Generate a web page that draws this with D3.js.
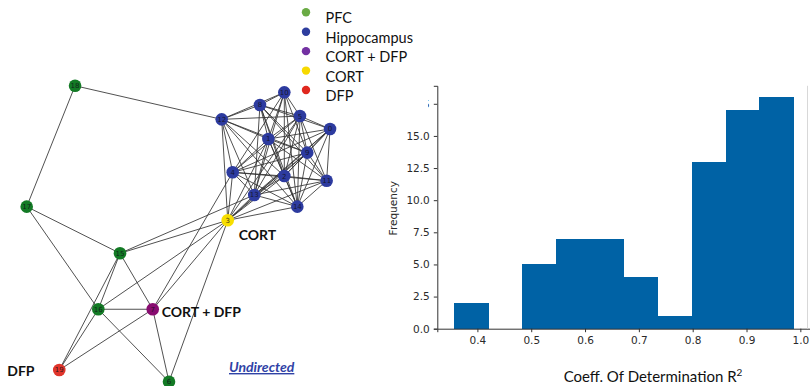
<!DOCTYPE html>
<html>
<head>
<meta charset="utf-8">
<script src="https://cdn.jsdelivr.net/npm/d3@7"></script>
<style>
  html, body { margin: 0; padding: 0; background: #fff; }
  svg { display: block; }
</style>
</head>
<body>
<svg id="chart" width="810" height="386"></svg>
<script>
// ---------- network: node layout (spring-layout coordinates) ----------
const nodeIds    = [0, 1, 2, 3, 4, 5, 6, 7, 8, 9, 10, 11, 12, 13, 14, 15, 16, 17, 18, 19];
const nodeGroups = ["hip","hip","hip","cort","hip","hip","pfc","cortdfp","hip","hip",
                    "hip","hip","hip","hip","hip","pfc","pfc","pfc","pfc","dfp"];
const layoutX = [0.968, 0.570, 0.673, 0.308, 0.340, 0.774, -0.071, -0.176, 0.516, 0.821,
                 0.673, 0.946, 0.269, 0.479, 0.757, -0.387, -0.527, -0.989, -0.677, -0.779];
const layoutY = [0.707, 0.640, 0.393, 0.098, 0.418, 0.793, -0.978, -0.495, 0.867, 0.549,
                 0.951, 0.362, 0.771, 0.267, 0.189, -0.122, -0.495, 0.189, 0.995, -0.900];

// undirected edges
const edges = [
  // prefrontal / treatment nodes
  [18,17],[18,12],[17,15],[17,16],[15,3],[15,13],[15,16],[15,19],[15,7],
  [16,7],[16,19],[16,6],[16,3],[7,3],[7,4],[7,19],[7,6],[6,3],
  // hippocampal cluster
  [12,8],[12,10],[12,1],[12,5],[12,9],[12,4],[12,13],[12,3],[12,14],[12,2],
  [8,10],[8,1],[8,5],[8,9],[8,2],[8,13],[8,14],[8,11],[8,0],
  [10,5],[10,1],[10,9],[10,2],[10,13],[10,14],[10,4],
  [5,0],[5,1],[5,9],[5,2],[5,4],[5,13],[5,3],[5,11],[5,14],
  [0,9],[0,11],[0,3],[0,13],[0,2],[0,1],[0,4],[0,14],
  [1,9],[1,4],[1,2],[1,13],[1,14],[1,11],[1,3],
  [9,2],[9,11],[9,4],[9,13],[9,14],[9,3],
  [4,13],[4,3],[4,2],[4,11],[4,14],
  [2,13],[2,14],[2,11],[2,3],
  [11,14],[11,13],[11,3],
  [13,14],[13,3],[14,3]
];

const legendLabels = ["PFC", "Hippocampus", "CORT + DFP", "CORT", "DFP"];
const legendColors = ["#6aab45", "#2e3d9e", "#7331a2", "#f7d900", "#e0281f"];
const nodeColors = { pfc: "#137a25", hip: "#2d3b9f", cortdfp: "#880c70", cort: "#f7de00", dfp: "#e0352b" };

// ---------- histogram: coefficient of determination ----------
const binEdges = [0.357, 0.420, 0.483, 0.546, 0.609, 0.672, 0.735, 0.798, 0.861, 0.924, 0.987];
const binCounts = [2, 0, 5, 7, 7, 4, 1, 13, 17, 18];
const xTicks = [0.4, 0.5, 0.6, 0.7, 0.8, 0.9, 1.0];
const yTicks = [0, 2.5, 5, 7.5, 10, 12.5, 15, 17.5];

const svg = d3.select("#chart");

// ===== network graph =====
const nx = d3.scaleLinear().domain([-1, 1]).range([25, 335]);
const ny = d3.scaleLinear().domain([-1, 1]).range([385, 85]);
const nodes = nodeIds.map((id, i) => ({ id, group: nodeGroups[i], x: nx(layoutX[i]), y: ny(layoutY[i]) }));

const net = svg.append("g").attr("class", "network");
net.append("g").selectAll("line").data(edges).join("line")
  .attr("x1", d => nodes[d[0]].x).attr("y1", d => nodes[d[0]].y)
  .attr("x2", d => nodes[d[1]].x).attr("y2", d => nodes[d[1]].y)
  .attr("stroke", "#333").attr("stroke-width", 1).attr("stroke-opacity", 0.85);

const nodeG = net.append("g").selectAll("g").data(nodes).join("g")
  .attr("transform", d => `translate(${d.x},${d.y})`);
nodeG.append("circle").attr("r", 6.3).attr("fill", d => nodeColors[d.group]);
nodeG.append("text").text(d => d.id)
  .attr("text-anchor", "middle").attr("dy", "0.35em")
  .attr("font-family", "DejaVu Sans, sans-serif").attr("font-size", 7)
  .attr("fill", "#101018").attr("fill-opacity", 0.85);

// group annotations
const annot = net.append("g").attr("font-family", "Lato, sans-serif").attr("font-weight", 700)
  .attr("font-size", 14).attr("fill", "#111");
annot.append("text").attr("x", nodes[3].x + 11).attr("y", nodes[3].y + 20).text("CORT");
annot.append("text").attr("x", nodes[7].x + 9).attr("y", nodes[7].y + 7.5).text("CORT + DFP");
annot.append("text").attr("x", nodes[19].x - 52).attr("y", nodes[19].y + 6).text("DFP");

net.append("text").attr("x", 229).attr("y", 372)
  .attr("font-family", "Lato, sans-serif").attr("font-weight", 700).attr("font-style", "italic")
  .attr("font-size", 14).attr("fill", "#2f42a6").attr("text-decoration", "underline")
  .text("Undirected");

// legend
const leg = svg.append("g").attr("class", "legend");
const legY = d3.scalePoint().domain(legendLabels).range([12.3, 90]);
leg.selectAll("circle").data(legendLabels).join("circle")
  .attr("cx", 306).attr("cy", d => legY(d)).attr("r", 4.2)
  .attr("fill", (d, i) => legendColors[i]);
leg.selectAll("text").data(legendLabels).join("text")
  .attr("x", 325.5).attr("y", d => legY(d) + 11)
  .attr("font-family", "Lato, sans-serif").attr("font-size", 14.5).attr("fill", "#111")
  .text(d => d);

// ===== histogram =====
const hx = d3.scaleLinear().domain([0.3255, 1.0185]).range([437.3, 810.3]);
const hy = d3.scaleLinear().domain([0, 18.9]).range([328.7, 85.8]);
const bins = binCounts.map((c, i) => ({ x0: binEdges[i], x1: binEdges[i + 1], count: c }));

const hist = svg.append("g").attr("class", "histogram");
hist.append("g").attr("shape-rendering", "crispEdges")
  .selectAll("rect").data(bins.filter(b => b.count > 0)).join("rect")
  .attr("x", d => hx(d.x0)).attr("width", d => hx(d.x1) - hx(d.x0) + 0.5)
  .attr("y", d => hy(d.count)).attr("height", d => hy(0) - hy(d.count))
  .attr("fill", "#0062a5");

const axisFont = g => g.selectAll("text").attr("font-family", "DejaVu Sans, sans-serif")
  .attr("font-size", 10.5).attr("fill", "#2a2a2a");

const xAxis = hist.append("g").attr("transform", `translate(0,${hy(0)})`)
  .call(d3.axisBottom(hx).tickValues(xTicks).tickFormat(d3.format(".1f")).tickSize(3.5).tickPadding(4));
const yAxis = hist.append("g").attr("transform", `translate(${hx.range()[0]},0)`)
  .call(d3.axisLeft(hy).tickValues(yTicks).tickFormat(d3.format(".1f")).tickSize(3.5).tickPadding(4));
[xAxis, yAxis].forEach(a => {
  a.call(axisFont);
  a.select(".domain").attr("stroke", "#333").attr("stroke-width", 1);
  a.selectAll(".tick line").attr("stroke", "#333");
});

// faint right frame edge
hist.append("line").attr("x1", 807.5).attr("x2", 807.5).attr("y1", hy.range()[1]).attr("y2", hy(0))
  .attr("stroke", "#d8d8d8").attr("stroke-width", 1);

// legend panel sits over the top corner of the frequency axis
svg.append("rect").attr("x", 378).attr("y", 84).attr("width", 50).attr("height", 27).attr("fill", "#fff");

hist.append("text").attr("transform", `translate(397,${(hy(0) + hy.range()[1]) / 2 + 1}) rotate(-90)`)
  .attr("text-anchor", "middle")
  .attr("font-family", "DejaVu Sans, sans-serif").attr("font-size", 10.5).attr("fill", "#2a2a2a")
  .text("Frequency");

const xt = hist.append("text").attr("x", 653).attr("y", 382).attr("text-anchor", "middle")
  .attr("font-family", "Lato, sans-serif").attr("font-size", 15).attr("fill", "#111");
xt.append("tspan").text("Coeff. Of Determination R");
xt.append("tspan").attr("dy", -6).attr("font-size", 10).text("2");
</script>
</body>
</html>
